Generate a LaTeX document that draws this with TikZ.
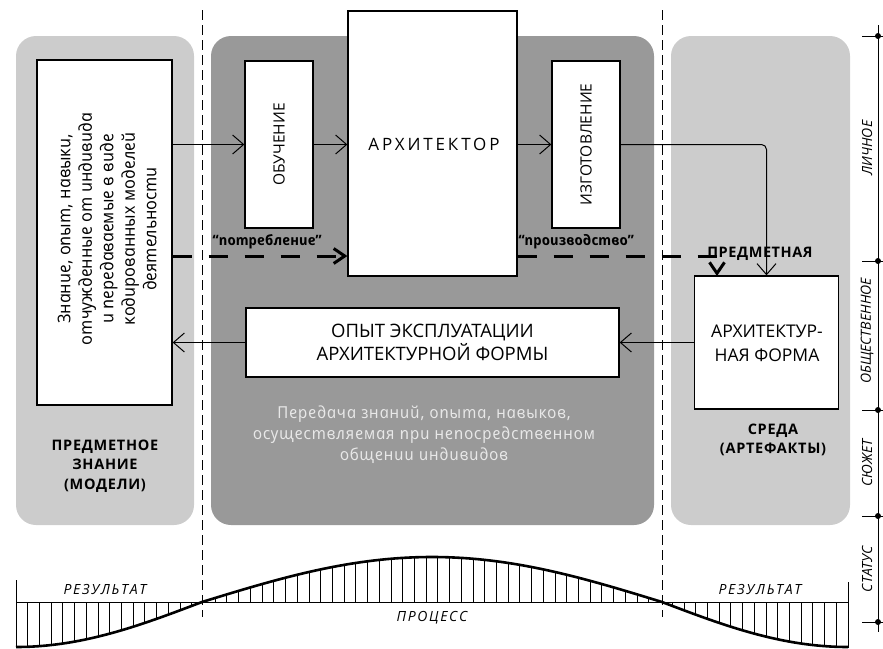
\documentclass[tikz,border=0pt]{standalone}
\usepackage{fontspec}
\setmainfont{Open Sans}
\newfontfamily\cursf{Open Sans}[ItalicFeatures={FakeSlant=-0.21},BoldItalicFeatures={FakeSlant=-0.21}]
\usetikzlibrary{arrows.meta,calc}
\newcommand\myup{\cursf\itshape}
\newcommand\mybup{\cursf\bfseries\itshape}
\definecolor{lightpanel}{HTML}{CCCCCC}
\definecolor{darkpanel}{HTML}{999999}
\definecolor{softtext}{HTML}{E8E8E8}
\begin{document}
\begin{tikzpicture}[x=1pt,y=-1pt,
  declare function={wy(\x)=(\x<202) ? (602+45*cos(0.48387*(\x-16))) : ((\x<662) ? (602-45*sin(0.391304*(\x-202))) : (602+45*sin(0.48387*(\x-662))));},
  panel/.style={rounded corners=20pt,draw=none},
  box/.style={draw=black,line width=1.3pt,fill=white,inner sep=0pt},
  thinarr/.style={line width=1pt,-{Straight Barb[length=11pt,width=19pt,line width=1pt]}},
  thickarr/.style={line width=3pt,dash pattern=on 19pt off 17pt,-{Straight Barb[length=11pt,width=15pt,line width=3pt]}},
  vdash/.style={line width=1pt,dash pattern=on 10pt off 5pt},
  hatch/.style={line width=0.9pt},
  scalelbl/.style={rotate=90,font=\itshape\fontsize{14}{16}\selectfont},
  headlbl/.style={align=center,font=\bfseries\fontsize{14.5}{19.5}\selectfont\addfontfeature{LetterSpace=5}},
  botlbl/.style={font=\itshape\fontsize{14}{16}\selectfont\addfontfeature{LetterSpace=12}},
]
\useasboundingbox (0,0) rectangle (883,648);
% panels
\fill[lightpanel,panel] (16,36) rectangle (194,525);
\fill[darkpanel,panel] (211,36) rectangle (654,525);
\fill[lightpanel,panel] (671,36) rectangle (850,525);
% vertical dashed separators
\draw[vdash] (202,10) -- (202,617);
\draw[vdash] (662,10) -- (662,617);
% boxes
\node[box,minimum width=135pt,minimum height=345pt] (know) at (104.5,232.5) {};
\node[rotate=90,align=center,font=\myup\fontsize{17.5}{21.5}\selectfont] (knowtxt) at (107,228) {Знание, опыт, навыки,\\отчужденные от индивида\\и передаваемые в виде\\кодированных моделей\\деятельности};
\node[box,minimum width=68pt,minimum height=167pt] (obuch) at (279,144.5) {};
\node[rotate=90,font=\fontsize{15.5}{17}\selectfont] (obuchtxt) at (obuch.center) {ОБУЧЕНИЕ};
\node[box,minimum width=169pt,minimum height=265pt] (arch) at (432.5,143.5) {};
\node[font=\fontsize{17}{20}\selectfont\addfontfeature{LetterSpace=17}] (archtxt) at (434,144) {АРХИТЕКТОР};
\node[box,minimum width=68pt,minimum height=167pt] (izg) at (586,144.5) {};
\node[rotate=90,font=\fontsize{15.5}{17}\selectfont] (izgtxt) at (izg.center) {ИЗГОТОВЛЕНИЕ};
\node[box,minimum width=144pt,minimum height=133pt] (af) at (766.5,342.5) {};
\node[align=center,font=\fontsize{17.5}{24}\selectfont] (aftxt) at (767,343) {АРХИТЕКТУР-\\НАЯ ФОРМА};
\node[box,minimum width=373pt,minimum height=69pt] (opyt) at (432.5,342.5) {};
\node[align=center,font=\fontsize{18.5}{23}\selectfont] (opyttxt) at (opyt.center) {ОПЫТ ЭКСПЛУАТАЦИИ\\АРХИТЕКТУРНОЙ ФОРМЫ};
% connectors
\draw[thinarr] (know.east |- obuch.west) -- (obuch.west);
\draw[thinarr] (obuch.east) -- (arch.west |- obuch.east);
\draw[thinarr] (arch.east |- izg.west) -- (izg.west);
\draw[thinarr,rounded corners=5pt] (izg.east) -| (af.north);
\draw[thinarr] (af.west) -- (opyt.east);
\draw[thinarr] (opyt.west) -- (know.east |- opyt.west);
\coordinate (dl) at (0,256);
\coordinate (afin) at (717,276);
\draw[thickarr] (know.east |- dl) -- (arch.west |- dl);
\draw[thickarr] (arch.east |- dl) -| (afin);
% labels
\node[font=\mybup\fontsize{14.3}{16}\selectfont] (potr) at (268,242) {“потребление”};
\node[font=\mybup\fontsize{14.3}{16}\selectfont] (proizv) at (577,242) {“производство”};
\node[font=\bfseries\fontsize{14.5}{16}\selectfont\addfontfeature{LetterSpace=4}] (predm) at (760,254) {ПРЕДМЕТНАЯ};
\node[headlbl] (znanie) at (105,466) {ПРЕДМЕТНОЕ\\ЗНАНИЕ\\(МОДЕЛИ)};
\node[headlbl] (sreda) at (773,440) {СРЕДА\\(АРТЕФАКТЫ)};
\node[align=center,text=softtext,font=\myup\fontsize{16.5}{21}\selectfont\addfontfeature{LetterSpace=4}] (peredacha) at (425,435) {Передача знаний, опыта, навыков,\\осуществляемая при непосредственном\\общении индивидов};
% right scale
\draw[line width=1pt] (878,25) -- (878,632);
\foreach \yy in {36,261,410,516,622} {
  \draw[line width=1pt] (862,\yy) -- (883,\yy);
  \fill (878,\yy) circle (3pt);
}
\node[scalelbl] (s1) at (867,148) {ЛИЧНОЕ};
\node[scalelbl] (s2) at (867,331) {ОБЩЕСТВЕННОЕ};
\node[scalelbl] (s3) at (867,463) {СЮЖЕТ};
\node[scalelbl] (s4) at (867,569) {СТАТУС};
% bottom wave
\foreach \i in {0,...,71} {
  \pgfmathsetmacro\hx{16+\i*11.7183}
  \draw[hatch] (\hx,602) -- (\hx,{wy(\hx)});
}
\draw[line width=1pt] (16,602) -- (848,602);
\draw[line width=1pt] (16,580) -- (16,648);
\draw[line width=1pt] (848,582) -- (848,648);
\draw[line width=2.6pt,line join=round] plot[domain=16:848,samples=220] (\x,{wy(\x)});
\node[botlbl] (res1) at (105,590) {РЕЗУЛЬТАТ};
\node[botlbl] (res2) at (760,590) {РЕЗУЛЬТАТ};
\node[botlbl] (proc) at (432,618) {ПРОЦЕСС};
\end{tikzpicture}
\end{document}
